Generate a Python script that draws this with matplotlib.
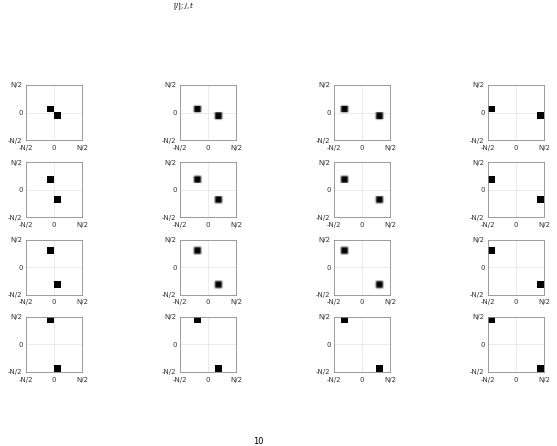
import numpy as np
import matplotlib
matplotlib.use("Agg")
from matplotlib import pyplot as plt

# grid of panels: column index sets horizontal separation, row sets vertical
N = 64
cell = N // 8
col_shift = [0, 1, 2, 3]      # block offset from centre, horizontal
row_shift = [0, 1, 2, 3]      # block offset from centre, vertical
# panels whose squares look smeared (sub-pixel shift)
blurred = [[False, True, True, False],
           [False, True, True, False],
           [False, True, True, False],
           [False, False, False, False]]

tick_pos = [-N / 2, 0, N / 2]
tick_lab = ["-N/2", "0", "N/2"]


def make_img(kx, ky, blur):
    img = np.zeros((N, N))
    c = N // 2
    # square 1 upper left, square 2 lower right
    x1 = c - (kx + 1) * cell
    y1 = c - (ky + 1) * cell   # row index (top is 0)
    img[y1:y1 + cell, x1:x1 + cell] = 1
    x2 = c + kx * cell
    y2 = c + ky * cell
    img[y2:y2 + cell, x2:x2 + cell] = 1
    if blur:
        k = np.array([0.2, 0.6, 0.2])
        for _ in range(2):
            img = np.apply_along_axis(lambda v: np.convolve(v, k, mode="same"), 0, img)
            img = np.apply_along_axis(lambda v: np.convolve(v, k, mode="same"), 1, img)
    # black with alpha so the zero lines show through the white
    rgba = np.zeros((N, N, 4))
    rgba[..., 3] = np.clip(img, 0, 1)
    return rgba


fig = plt.figure(figsize=(5.57, 4.46), dpi=100)
W, H = 557, 446
for r, ky in enumerate(row_shift):
    for ci, kx in enumerate(col_shift):
        left = 26 + 154 * ci
        top = 85 + 77.3 * r
        ax = fig.add_axes([left / W, 1 - (top + 55) / H, 56 / W, 55 / H])
        ax.axhline(0, color="#e3e3e3", lw=0.5, zorder=0)
        ax.axvline(0, color="#e3e3e3", lw=0.5, zorder=0)
        ax.imshow(make_img(kx, ky, blurred[r][ci]),
                  extent=[-N / 2, N / 2, -N / 2, N / 2], origin="upper",
                  interpolation="nearest", aspect="auto", zorder=1)
        ax.set_xlim(-N / 2, N / 2)
        ax.set_ylim(-N / 2, N / 2)
        ax.set_xticks(tick_pos)
        ax.set_xticklabels(tick_lab)
        ax.set_yticks(tick_pos)
        ax.set_yticklabels(tick_lab)
        ax.tick_params(length=0, labelsize=5, colors="#333333")
        ax.tick_params(axis="x", pad=3.5)
        ax.tick_params(axis="y", pad=2.5)
        for s in ax.spines.values():
            s.set_color("#8c8c8c")
            s.set_linewidth(0.6)

# page text fragments above and below the figure
fig.text(0.33, 0.999, r"$[l];j,t$", fontsize=5, ha="center", va="top")
fig.text(0.463, 0.001, "10", fontsize=6, ha="center", va="bottom")

fig.savefig("out.png", dpi=100)
